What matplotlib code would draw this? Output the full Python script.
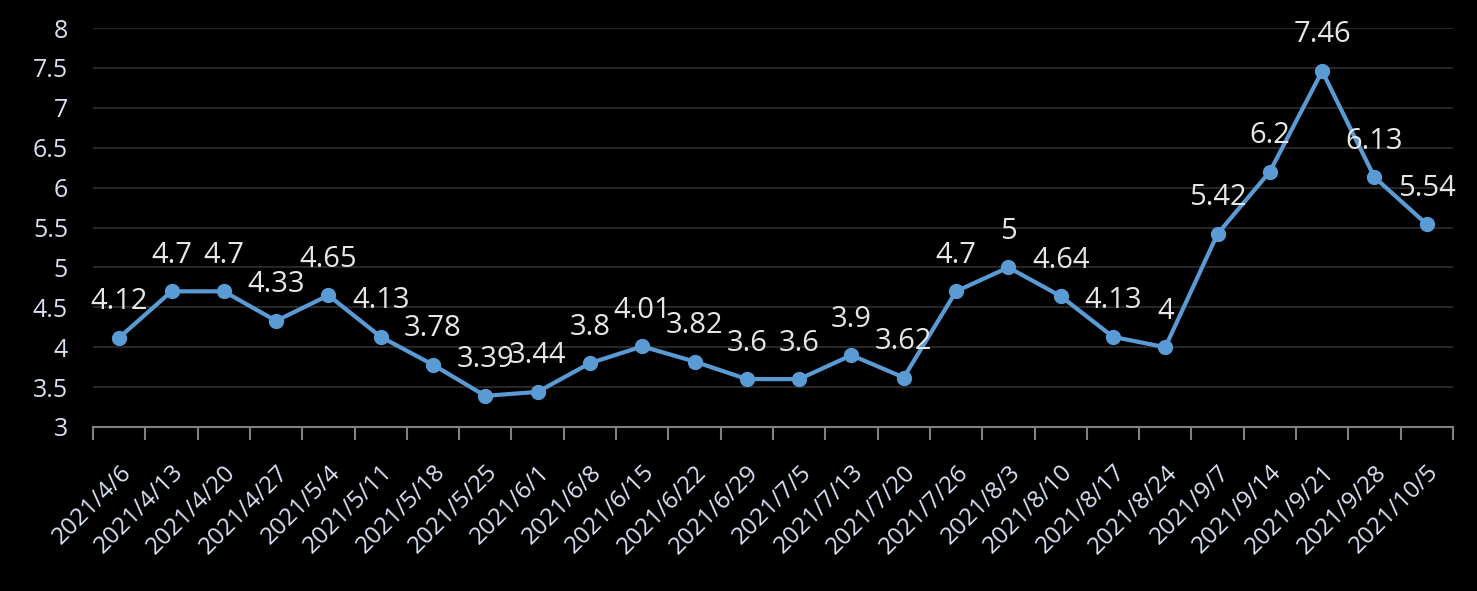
import matplotlib.pyplot as plt
import numpy as np

dates = ["2021/4/6", "2021/4/13", "2021/4/20", "2021/4/27", "2021/5/4",
         "2021/5/11", "2021/5/18", "2021/5/25", "2021/6/1", "2021/6/8",
         "2021/6/15", "2021/6/22", "2021/6/29", "2021/7/5", "2021/7/13",
         "2021/7/20", "2021/7/26", "2021/8/3", "2021/8/10", "2021/8/17",
         "2021/8/24", "2021/9/7", "2021/9/14", "2021/9/21", "2021/9/28",
         "2021/10/5"]
values = [4.12, 4.7, 4.7, 4.33, 4.65, 4.13, 3.78, 3.39, 3.44, 3.8,
          4.01, 3.82, 3.6, 3.6, 3.9, 3.62, 4.7, 5.0, 4.64, 4.13,
          4.0, 5.42, 6.2, 7.46, 6.13, 5.54]
y_ticks = [3, 3.5, 4, 4.5, 5, 5.5, 6, 6.5, 7, 7.5, 8]

plt.rcParams['font.family'] = ['Open Sans', 'DejaVu Sans']

fig = plt.figure(figsize=(14.77, 5.91), dpi=100, facecolor='black')
ax = fig.add_axes([0.063, 0.2775, 0.9207, 0.6751], facecolor='black')

x = np.arange(len(dates))
ax.plot(x, values, color='#5B9BD5', linewidth=3, marker='o', markersize=10,
        zorder=3)

# data labels above each point
for xi, v in zip(x, values):
    label = f"{v:g}"
    ax.annotate(label, (xi, v), xytext=(0, 26), textcoords='offset points',
                ha='center', va='center', fontsize=21, color='#E7E6E6',
                zorder=4)

ax.set_xlim(-0.5, len(dates) - 0.5)
ax.set_ylim(3, 8)
ax.set_yticks(y_ticks)
ax.set_yticklabels([f"{t:g}" for t in y_ticks])
ax.yaxis.grid(True, color='#262626', linewidth=1.5)
ax.set_axisbelow(True)

ax.set_xticks(x)
ax.set_xticklabels(dates, rotation=45, ha='right', rotation_mode='anchor')
ax.set_xticks(np.arange(-0.5, len(dates)), minor=True)
ax.tick_params(axis='x', which='major', length=0, pad=24, labelsize=17.5,
               labelcolor='#D9E1F2')
ax.tick_params(axis='x', which='minor', length=9, width=1.5, color='#808080')
ax.tick_params(axis='y', length=0, pad=18, labelsize=18, labelcolor='#D9E1F2')

for side in ['top', 'right', 'left']:
    ax.spines[side].set_visible(False)
ax.spines['bottom'].set_color('#808080')
ax.spines['bottom'].set_linewidth(1.5)

fig.savefig("out.png", dpi=100, facecolor='black')
